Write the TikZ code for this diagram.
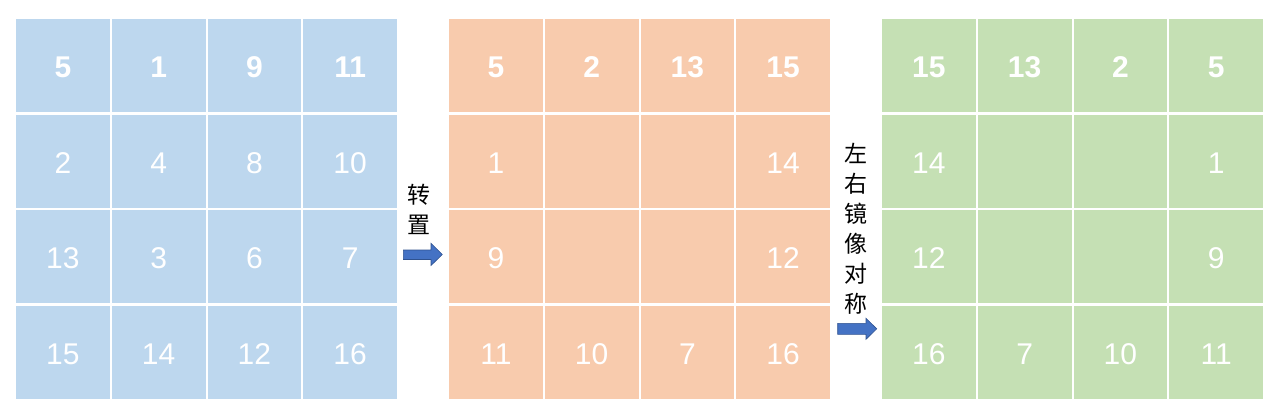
\documentclass[tikz,border=0pt]{standalone}
\usepackage{fontspec}
\setmainfont{Liberation Sans}
\newfontfamily\cjk{Noto Sans CJK SC}
\definecolor{cblue}{HTML}{BDD7EE}
\definecolor{corange}{HTML}{F8CBAD}
\definecolor{cgreen}{HTML}{C5E0B4}
\definecolor{arrowfill}{HTML}{4472C4}
\definecolor{arrowedge}{HTML}{2F528F}
\newcommand\gridrow[6]{% prefix, row, x0, yc, style, list
  \foreach \t [count=\i from 0] in {#6}
    \node[#5] (#1#2\i) at (#3+47.875+95.75*\i,#4) {\t};%
}
\begin{document}
\begin{tikzpicture}[x=1pt,y=-1pt,
  cell/.style={draw=white,line width=2pt,minimum width=95.75pt,minimum height=95pt,
    inner sep=0pt,text=white,text height=24.7pt,text depth=0pt,
    font=\fontsize{30}{36}\selectfont},
  headcell/.style={cell,font=\fontsize{30}{36}\selectfont\bfseries},
  bigarrow/.style={fill=arrowfill,draw=arrowedge,line width=0.6pt},
  label/.style={align=center,inner sep=0pt,font=\cjk\fontsize{23}{30}\selectfont}]
\useasboundingbox (0,0) rectangle (1277,413);
% blue grid
\gridrow{b}{0}{15}{65}{headcell,fill=cblue}{5,1,9,11}
\gridrow{b}{1}{15}{161.5}{cell,fill=cblue}{2,4,8,10}
\gridrow{b}{2}{15}{256.5}{cell,fill=cblue}{13,3,6,7}
\gridrow{b}{3}{15}{352}{cell,fill=cblue}{15,14,12,16}
% orange grid
\gridrow{o}{0}{448}{65}{headcell,fill=corange}{5,2,13,15}
\gridrow{o}{1}{448}{161.5}{cell,fill=corange}{1,{},{},14}
\gridrow{o}{2}{448}{256.5}{cell,fill=corange}{9,{},{},12}
\gridrow{o}{3}{448}{352}{cell,fill=corange}{11,10,7,16}
% green grid
\gridrow{g}{0}{881}{65}{headcell,fill=cgreen}{15,13,2,5}
\gridrow{g}{1}{881}{161.5}{cell,fill=cgreen}{14,{},{},1}
\gridrow{g}{2}{881}{256.5}{cell,fill=cgreen}{12,{},{},9}
\gridrow{g}{3}{881}{352}{cell,fill=cgreen}{16,7,10,11}
% labels
\node[label] (t1) at (419,209) {转\\置};
\node[label] (t2) at (856,228.8) {左\\右\\镜\\像\\对\\称};
% arrows
\draw[bigarrow] (403.3,250) -- (431,250) -- (431,243.3) -- (442.3,254.5)
  -- (431,265.5) -- (431,259.5) -- (403.3,259.5) -- cycle;
\draw[bigarrow] (837.7,323.3) -- (866,323.3) -- (866,318.3) -- (876.7,328.8)
  -- (866,339.3) -- (866,334.3) -- (837.7,334.3) -- cycle;
\end{tikzpicture}
\end{document}
